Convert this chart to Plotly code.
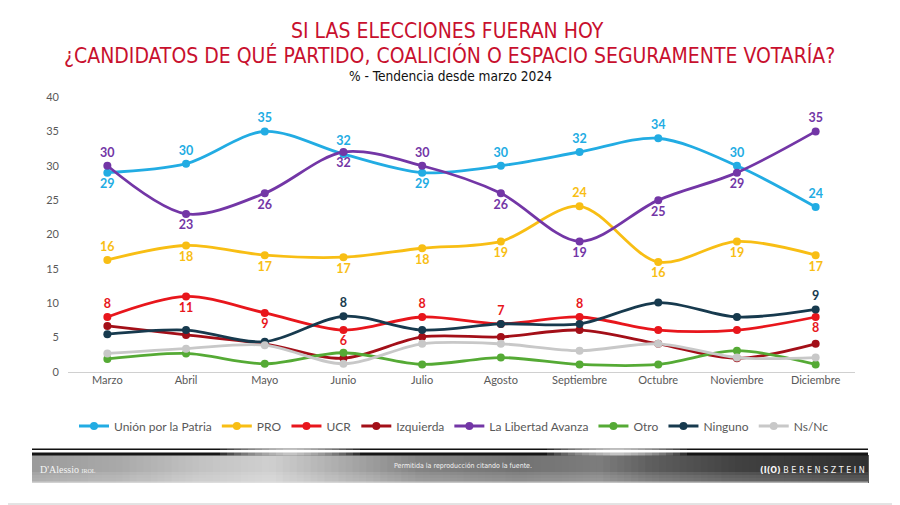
import plotly.graph_objects as go

months = ["Marzo", "Abril", "Mayo", "Junio", "Julio", "Agosto", "Septiembre", "Octubre", "Noviembre", "Diciembre"]

union = [29.0, 30.3, 35.0, 31.7, 29.0, 30.0, 32.0, 34.0, 30.0, 24.0]
pro = [16.3, 18.4, 17.0, 16.7, 18.0, 19.0, 24.1, 16.0, 19.0, 17.0]
ucr = [8.0, 11.0, 8.6, 6.1, 8.0, 7.0, 8.0, 6.1, 6.1, 8.0]
izquierda = [6.7, 5.4, 4.1, 2.0, 5.1, 5.1, 6.1, 4.1, 2.0, 4.1]
lla = [30.0, 23.0, 26.0, 32.0, 30.0, 26.0, 19.0, 25.0, 29.0, 35.0]
otro = [1.9, 2.7, 1.2, 2.8, 1.1, 2.1, 1.1, 1.1, 3.1, 1.1]
ninguno = [5.5, 6.1, 4.4, 8.1, 6.1, 7.0, 7.0, 10.1, 8.0, 9.1]
nsnc = [2.7, 3.4, 3.9, 1.2, 4.1, 4.1, 3.1, 4.1, 2.1, 2.1]

# label placement per point: "t" above, "b" below, "" none
union_lbl = ["b", "t", "t", "t", "b", "t", "t", "t", "t", "t"]
pro_lbl = ["t", "b", "b", "b", "b", "b", "t", "b", "b", "b"]
ucr_lbl = ["t", "b", "b", "b", "t", "t", "t", "", "", "b"]
izq_lbl = [""] * 10
lla_lbl = ["t", "b", "b", "b", "t", "b", "b", "b", "b", "t"]
otro_lbl = [""] * 10
ninguno_lbl = ["", "", "", "t", "", "", "", "", "", "t"]
nsnc_lbl = [""] * 10

series = [
    ("Unión por la Patria", union, union_lbl, "#22ACE3"),
    ("PRO", pro, pro_lbl, "#F8BE14"),
    ("UCR", ucr, ucr_lbl, "#E8161C"),
    ("Izquierda", izquierda, izq_lbl, "#A30F18"),
    ("La Libertad Avanza", lla, lla_lbl, "#7336A6"),
    ("Otro", otro, otro_lbl, "#55AA35"),
    ("Ninguno", ninguno, ninguno_lbl, "#173A4E"),
    ("Ns/Nc", nsnc, nsnc_lbl, "#C8C8C8"),
]

# page body has an 8px margin: the figure is drawn from (8, 8) on screen
OFF = 8
SW, SH = 900, 505               # screen size
PL, PR, PT, PB = 68, 855, 97, 372   # plot area in screen pixels
W, H = SW - OFF, SH - OFF
ML, MR, MT, MB = PL - OFF, SW - PR, PT - OFF, SH - PB
PW, PH = PR - PL, PB - PT

TITLE_FONT = "DejaVu Sans Condensed, Roboto, sans-serif"


def px(x):
    return (x - PL) / PW


def py(y):
    return (PB - y) / PH


fig = go.Figure()
for name, vals, lbls, col in series:
    texts = [f"<b>{round(v)}</b>" if l else "" for v, l in zip(vals, lbls)]
    pos = ["top center" if l == "t" else "bottom center" for l in lbls]
    fig.add_trace(go.Scatter(
        x=months, y=vals, name=name,
        mode="lines+markers+text",
        line=dict(color=col, width=2.8, shape="spline", smoothing=0.9),
        marker=dict(color=col, size=8),
        text=texts, textposition=pos,
        textfont=dict(family="Lato", size=12.5, color=col),
        cliponaxis=False,
    ))

shapes = []
# footer band: vertical strips approximating the metallic gradient
prof = [(32, 155), (120, 170), (200, 195), (270, 208), (330, 178), (420, 132),
        (520, 115), (600, 125), (650, 95), (740, 65), (868, 48)]


def gray_at(x):
    for (x0, g0), (x1, g1) in zip(prof[:-1], prof[1:]):
        if x0 <= x <= x1:
            return g0 + (g1 - g0) * (x - x0) / (x1 - x0)
    return prof[-1][1]


n = 120
for i in range(n):
    x0 = 32 + (868 - 32) * i / n
    x1 = 32 + (868 - 32) * (i + 1) / n
    g = int(gray_at((x0 + x1) / 2))
    c = f"rgb({g},{g},{g})"
    shapes.append(dict(type="rect", xref="paper", yref="paper",
                       x0=px(x0), x1=px(x1) + 0.001, y0=py(483), y1=py(455),
                       fillcolor=c, line=dict(width=0)))
# vertical shading of band
for k, a in enumerate((0.10, 0.07, 0.04)):
    shapes.append(dict(type="rect", xref="paper", yref="paper", x0=px(32), x1=px(868),
                       y0=py(483), y1=py(472 + 3 * k), fillcolor=f"rgba(255,255,255,{a})",
                       line=dict(width=0)))
shapes.append(dict(type="rect", xref="paper", yref="paper", x0=px(32), x1=px(868),
                   y0=py(483), y1=py(481.5), fillcolor="rgba(230,230,230,0.6)",
                   line=dict(width=0)))
# top black lines
shapes.append(dict(type="rect", xref="paper", yref="paper", x0=px(32), x1=px(868),
                   y0=py(450), y1=py(448.5), fillcolor="#111111", line=dict(width=0)))
shapes.append(dict(type="rect", xref="paper", yref="paper", x0=px(32), x1=px(868),
                   y0=py(455.5), y1=py(452.5), fillcolor="#151515", line=dict(width=0)))
# glare highlights (soft)
for gx in (290, 617):
    for w in range(70, 0, -7):
        shapes.append(dict(type="rect", xref="paper", yref="paper",
                           x0=px(gx - w), x1=px(gx + w), y0=py(455.5), y1=py(448.5),
                           fillcolor="rgba(255,255,255,0.13)", line=dict(width=0)))
# bottom faint border
shapes.append(dict(type="line", xref="paper", yref="paper", x0=px(OFF), x1=px(900),
                   y0=py(504), y1=py(504), line=dict(color="#C8C8C8", width=1)))

annotations = [
    dict(text="SI LAS ELECCIONES FUERAN HOY", x=px(447), y=py(31), xref="paper", yref="paper",
         showarrow=False, xanchor="center", yanchor="middle",
         font=dict(family=TITLE_FONT, size=21, color="#C8102E")),
    dict(text="¿CANDIDATOS DE QUÉ PARTIDO, COALICIÓN O ESPACIO SEGURAMENTE VOTARÍA?",
         x=px(449), y=py(56), xref="paper", yref="paper",
         showarrow=False, xanchor="center", yanchor="middle",
         font=dict(family=TITLE_FONT, size=21, color="#C8102E")),
    dict(text="% - Tendencia desde marzo 2024", x=px(450), y=py(76), xref="paper", yref="paper",
         showarrow=False, xanchor="center", yanchor="middle",
         font=dict(family=TITLE_FONT, size=13.6, color="#111111")),
    dict(text="Permitida la reproducción citando la fuente.", x=px(463), y=py(466),
         xref="paper", yref="paper", showarrow=False, xanchor="center", yanchor="middle",
         font=dict(family=TITLE_FONT, size=7, color="#F2F2F2")),
    dict(text="D'Alessio <span style='font-size:6px'>IROL</span>", x=px(38), y=py(469),
         xref="paper", yref="paper", showarrow=False, xanchor="left", yanchor="middle",
         font=dict(family="Liberation Serif", size=10, color="#F5F5F5")),
    dict(text="<b>(I(O)</b> B E R E N S Z T E I N", x=px(867), y=py(471),
         xref="paper", yref="paper", showarrow=False, xanchor="right", yanchor="middle",
         font=dict(family="DejaVu Sans", size=8, color="#F5F5F5")),
]

fig.update_layout(
    width=W, height=H,
    margin=dict(l=ML, r=MR, t=MT, b=MB),
    paper_bgcolor="white", plot_bgcolor="white",
    showlegend=True,
    legend=dict(orientation="h", x=px(454), xanchor="center", y=py(426), yanchor="middle",
                font=dict(family="Lato", size=12, color="#595959"),
                itemclick=False, itemdoubleclick=False),
    xaxis=dict(range=[-0.5, 9.5], showgrid=False, zeroline=False, showline=False,
               tickfont=dict(family="Lato", size=11, color="#595959"), ticks=""),
    yaxis=dict(range=[0, 40], dtick=5, showgrid=False, zeroline=True,
               zerolinecolor="#D0D0D0", zerolinewidth=1, showline=False,
               tickfont=dict(family="Lato", size=11, color="#595959"), ticks="",
               ticklabelstandoff=8),
    shapes=shapes,
    annotations=annotations,
)

fig.write_html("out.html")
